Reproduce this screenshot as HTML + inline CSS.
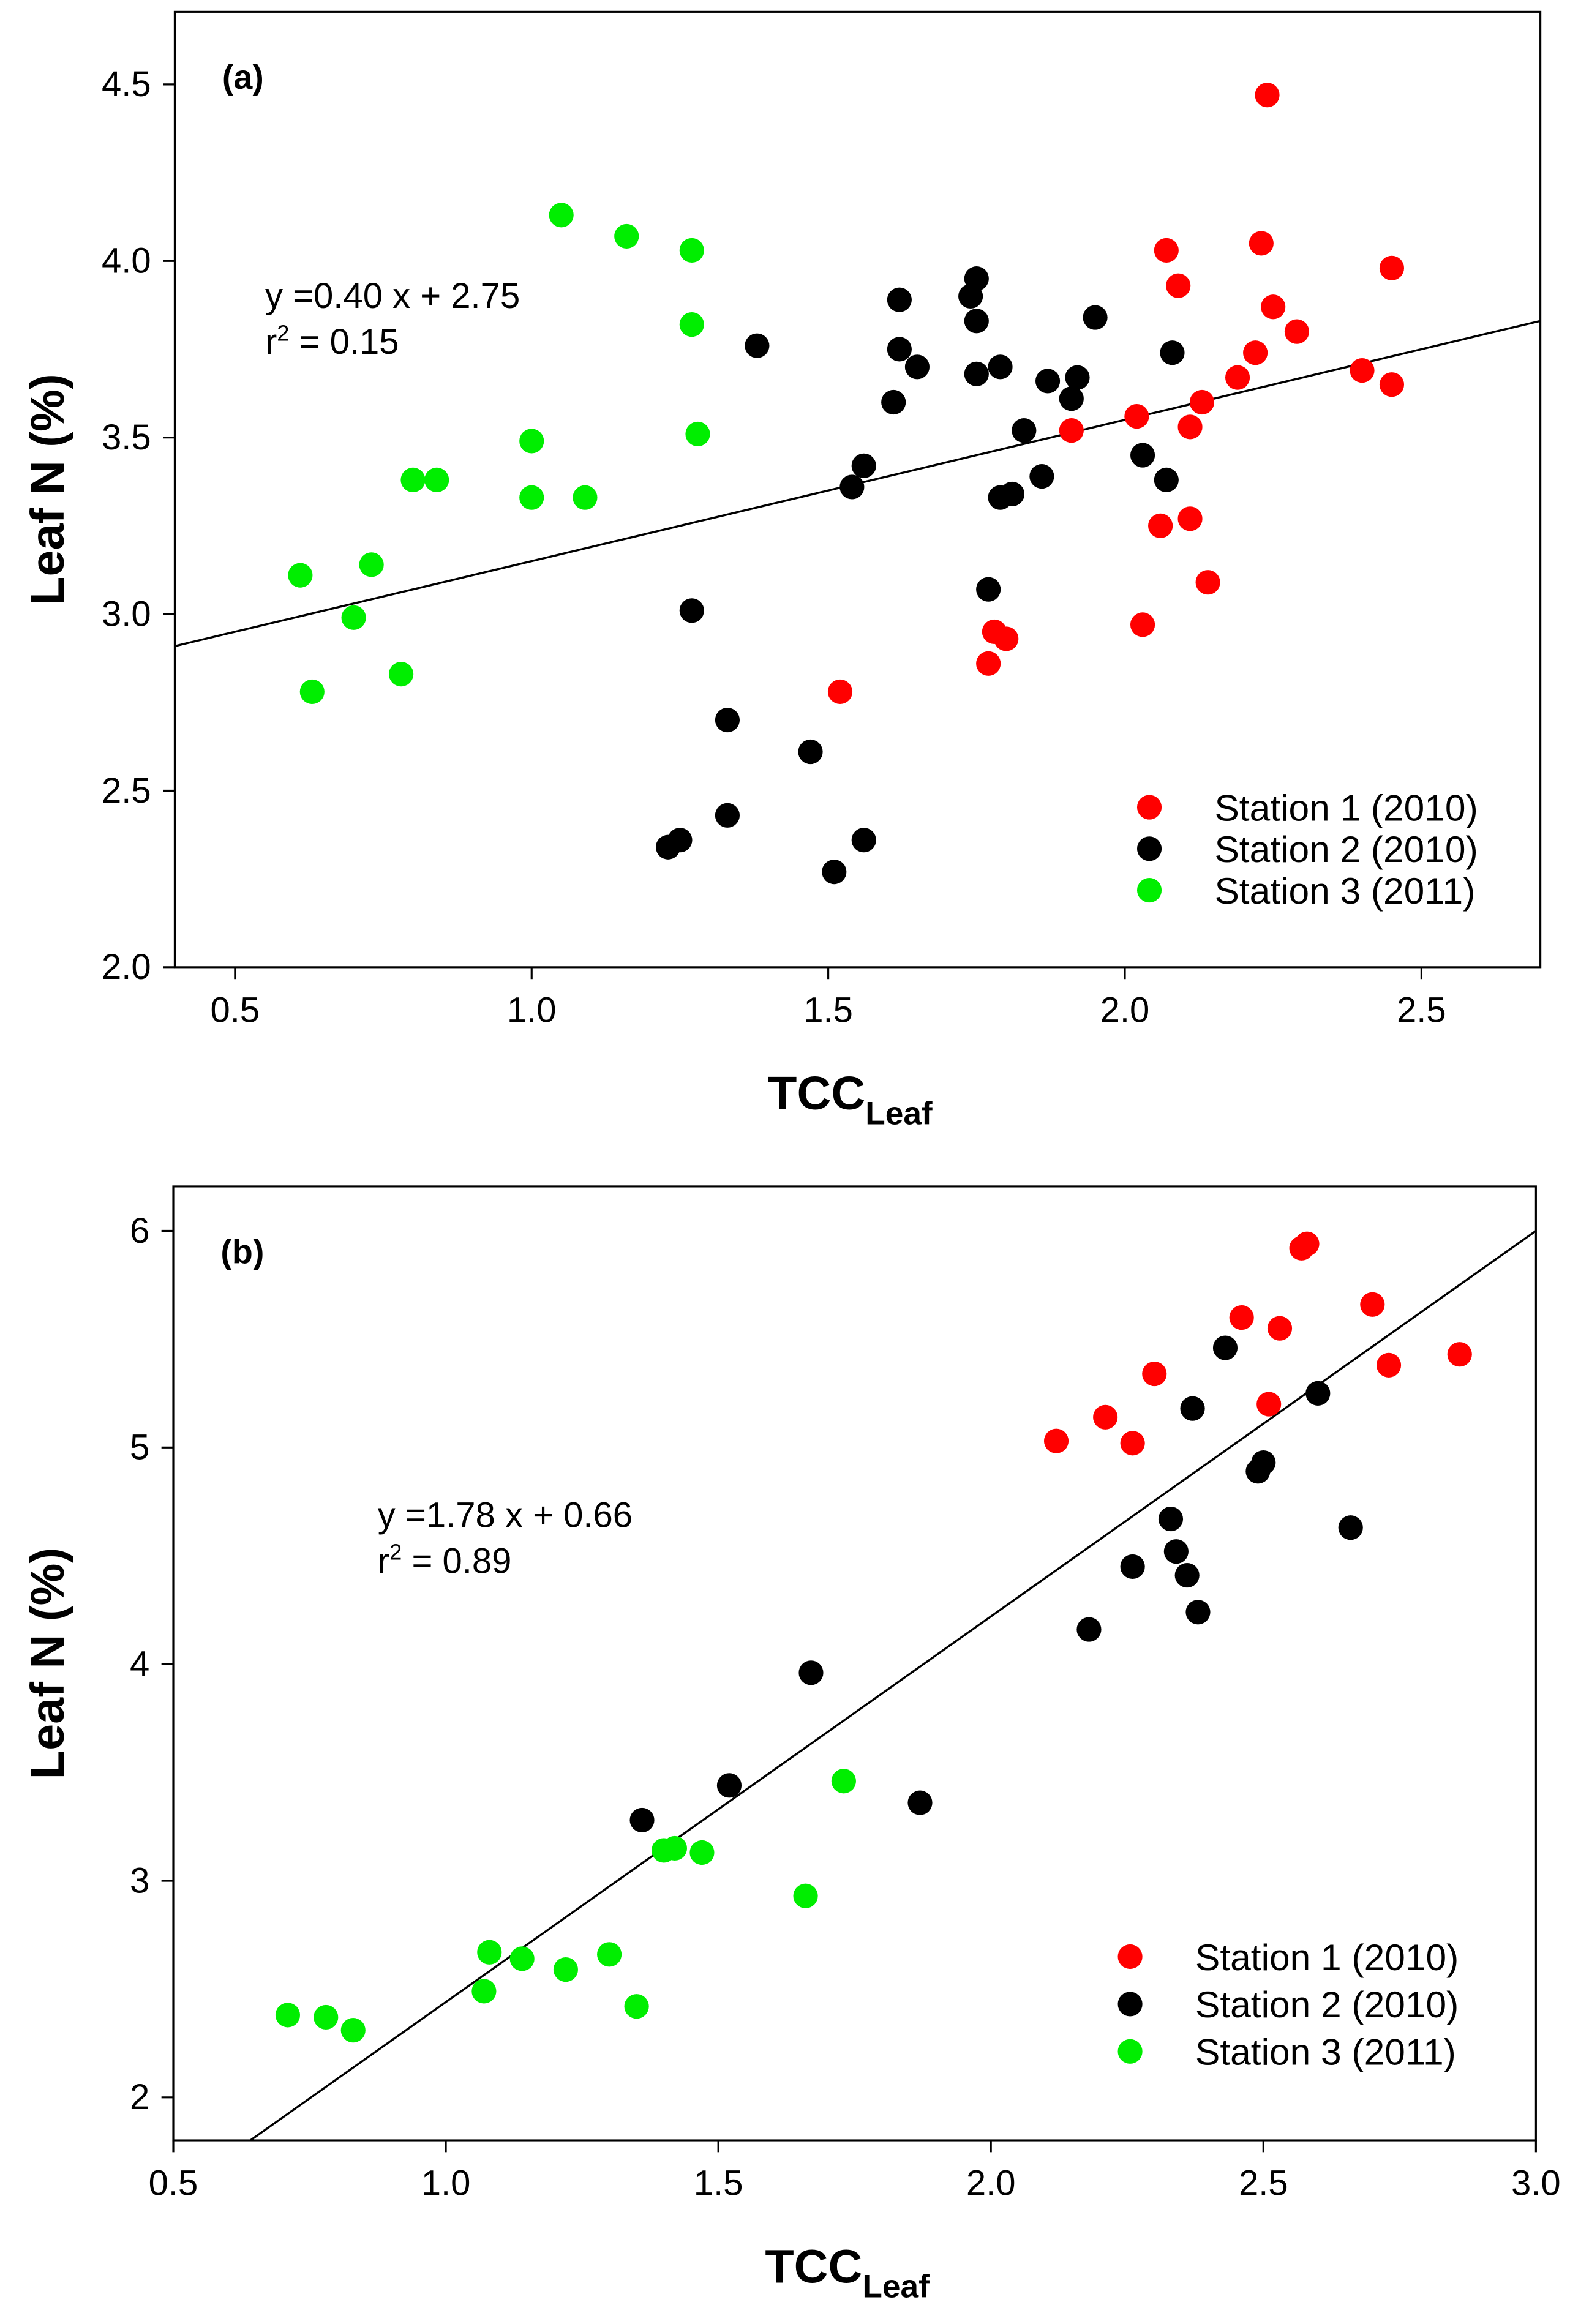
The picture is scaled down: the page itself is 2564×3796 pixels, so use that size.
<!DOCTYPE html>
<html><head><meta charset="utf-8"><style>
html,body{margin:0;padding:0;background:#fff;}
svg{display:block;font-family:"Liberation Sans",Arial,sans-serif;}
</style></head><body>
<svg id="chart" width="2564" height="3796" viewBox="0 0 1060 1569" preserveAspectRatio="none" xmlns="http://www.w3.org/2000/svg"></svg>
<script>
// Panel (a) data
const aRedX=[2.24,2.07,2.23,2.09,2.25,2.45,2.29,2.22,2.19,2.13,2.11,2.02,1.91,2.40,2.45,2.06,2.11,2.14,2.03,1.78,1.80,1.77,1.52];
const aRedY=[4.47,4.03,4.05,3.93,3.87,3.98,3.80,3.74,3.67,3.60,3.53,3.56,3.52,3.69,3.65,3.25,3.27,3.09,2.97,2.95,2.93,2.86,2.78];
const aBlkX=[1.75,1.74,1.62,1.38,1.62,1.65,1.75,1.95,1.75,1.79,1.87,1.92,1.91,2.08,1.61,1.83,1.56,1.54,1.86,1.81,1.79,2.03,2.07,1.77,1.27,1.33,1.47,1.33,1.25,1.23,1.56,1.51];
const aBlkY=[3.95,3.90,3.89,3.76,3.75,3.70,3.83,3.84,3.68,3.70,3.66,3.67,3.61,3.74,3.60,3.52,3.42,3.36,3.39,3.34,3.33,3.45,3.38,3.07,3.01,2.70,2.61,2.43,2.36,2.34,2.36,2.27];
const aGrnX=[1.05,1.16,1.27,1.27,1.28,1.00,1.00,1.09,0.80,0.84,0.61,0.73,0.70,0.78,0.63];
const aGrnY=[4.13,4.07,4.03,3.82,3.51,3.49,3.33,3.33,3.38,3.38,3.11,3.14,2.99,2.83,2.78];
const aXTicks=[0.5,1.0,1.5,2.0,2.5];
const aYTicks=[2.0,2.5,3.0,3.5,4.0,4.5];
const aFit=[0.40,2.75];
// Panel (b) data
const bRedX=[2.58,2.57,2.70,2.46,2.53,2.30,2.86,2.73,2.51,2.21,2.12,2.26];
const bRedY=[5.94,5.92,5.66,5.60,5.55,5.34,5.43,5.38,5.20,5.14,5.03,5.02];
const bBlkX=[2.43,2.37,2.60,2.50,2.49,2.33,2.34,2.26,2.36,2.38,2.66,2.18,1.67,1.52,1.36,1.87];
const bBlkY=[5.46,5.18,5.25,4.93,4.89,4.67,4.52,4.45,4.41,4.24,4.63,4.16,3.96,3.44,3.28,3.36];
const bGrnX=[1.73,1.40,1.42,1.47,1.66,1.08,1.14,1.30,1.22,1.07,1.35,0.71,0.78,0.83];
const bGrnY=[3.46,3.14,3.15,3.13,2.93,2.67,2.64,2.66,2.59,2.49,2.42,2.38,2.37,2.31];
const bXTicks=[0.5,1.0,1.5,2.0,2.5,3.0];
const bYTicks=[2,3,4,5,6];
const bFit=[1.78,0.66];

const NS="http://www.w3.org/2000/svg";
const svg=document.getElementById('chart');
function mk(tag,attrs,parent,text){const e=document.createElementNS(NS,tag);for(const k in attrs)e.setAttribute(k,attrs[k]);if(text!==undefined)e.textContent=text;(parent||svg).appendChild(e);return e;}

function panel(cfg){
  const g=mk('g',{});
  
  
  const sx=v=>cfg.L+(v-cfg.x0)/(cfg.x1-cfg.x0)*(cfg.R-cfg.L);
  const sy=v=>cfg.B-(v-cfg.y0)/(cfg.y1-cfg.y0)*(cfg.B-cfg.T);
  const frame=mk('rect',{x:cfg.L,y:cfg.T,width:cfg.R-cfg.L,height:cfg.B-cfg.T,fill:'none',stroke:'#000','stroke-width':1.3},g);
  
  
  cfg.xt.forEach(v=>{
    const x=sx(v);
    mk('line',{x1:x,x2:x,y1:cfg.B,y2:cfg.B+8,stroke:'#000','stroke-width':1.3},g);
    const t=mk('text',{x:x,y:cfg.B+37,'font-size':24,'text-anchor':'middle'},g,cfg.xfmt(v));
    
    
  });
  cfg.yt.forEach(v=>{
    const y=sy(v);
    mk('line',{x1:cfg.L-8,x2:cfg.L,y1:y,y2:y,stroke:'#000','stroke-width':1.3},g);
    const t=mk('text',{x:cfg.L-16,y:y+8,'font-size':24,'text-anchor':'end'},g,cfg.yfmt(v));
    
    
  });
  let xa=cfg.x0,xb=cfg.x1;
  const ya=cfg.fit[0]*xa+cfg.fit[1];
  if(ya<cfg.y0) xa=(cfg.y0-cfg.fit[1])/cfg.fit[0];
  const yb=cfg.fit[0]*xb+cfg.fit[1];
  if(yb>cfg.y1) xb=(cfg.y1-cfg.fit[1])/cfg.fit[0];
  const ln=mk('line',{x1:sx(xa),y1:sy(cfg.fit[0]*xa+cfg.fit[1]),x2:sx(xb),y2:sy(cfg.fit[0]*xb+cfg.fit[1]),stroke:'#000','stroke-width':1.4},g);
  
  
  cfg.series.forEach(s=>{
    s.x.forEach((xv,i)=>{
      const c=mk('circle',{cx:sx(xv),cy:sy(s.y[i]),r:8.3,fill:s.color},g);
      
      
    });
  });
  const lab=mk('text',{x:cfg.L+32,y:cfg.T+52,'font-size':23,'font-weight':'bold'},g,cfg.label);
  
  
  const eq=mk('text',{x:cfg.eqX,y:cfg.eqY,'font-size':24},g,'y =' + cfg.fit[0].toFixed(2)+' x + '+cfg.fit[1].toFixed(2));
  
  
  const r2=mk('text',{x:cfg.eqX,y:cfg.eqY+31,'font-size':24},g);
  
  
  mk('tspan',{},r2,'r');
  mk('tspan',{dy:-9,'font-size':15},r2,'2');
  mk('tspan',{dy:9},r2,' = '+cfg.r2);
  cfg.series.forEach((s,i)=>{
    const y=cfg.legY+i*cfg.legDy;
    const m=mk('circle',{cx:cfg.legX,cy:y,r:8.3,fill:s.color},g);
    
    
    const t=mk('text',{x:cfg.legX+44,y:y+9,'font-size':25},g,s.label);
    
    
  });
  const yt=mk('text',{x:0,y:0,'font-size':32,'font-weight':'bold','text-anchor':'middle',transform:'translate(43,'+((cfg.T+cfg.B)/2)+') rotate(-90)'},g,'Leaf N (%)');
  
  
  const xt=mk('text',{x:(cfg.L+cfg.R)/2-5,y:cfg.B+96,'font-size':32,'font-weight':'bold','text-anchor':'middle'},g);
  
  
  mk('tspan',{},xt,'TCC');
  mk('tspan',{dy:10,'font-size':22},xt,'Leaf');
}

panel({name:'panel-a',L:118,R:1040,T:8,B:653,x0:0.3984,x1:2.7005,y0:2.0,y1:4.7055,
  xt:aXTicks,yt:aYTicks,xfmt:v=>v.toFixed(1),yfmt:v=>v.toFixed(1),fit:aFit,label:'(a)',
  eqX:179,eqY:208,r2:'0.15',legX:776,legY:545,legDy:28,
  series:[{name:'station-1',label:'Station 1 (2010)',color:'#ff0000',x:aRedX,y:aRedY},
          {name:'station-2',label:'Station 2 (2010)',color:'#000000',x:aBlkX,y:aBlkY},
          {name:'station-3',label:'Station 3 (2011)',color:'#00ee00',x:aGrnX,y:aGrnY}]});
panel({name:'panel-b',L:117,R:1037,T:801,B:1445,x0:0.5,x1:3.0,y0:1.8017,y1:6.2051,
  xt:bXTicks,yt:bYTicks,xfmt:v=>v.toFixed(1),yfmt:v=>String(v),fit:bFit,label:'(b)',
  eqX:255,eqY:1031,r2:'0.89',legX:763,legY:1321,legDy:32,
  series:[{name:'station-1',label:'Station 1 (2010)',color:'#ff0000',x:bRedX,y:bRedY},
          {name:'station-2',label:'Station 2 (2010)',color:'#000000',x:bBlkX,y:bBlkY},
          {name:'station-3',label:'Station 3 (2011)',color:'#00ee00',x:bGrnX,y:bGrnY}]});
</script>
</body></html>
